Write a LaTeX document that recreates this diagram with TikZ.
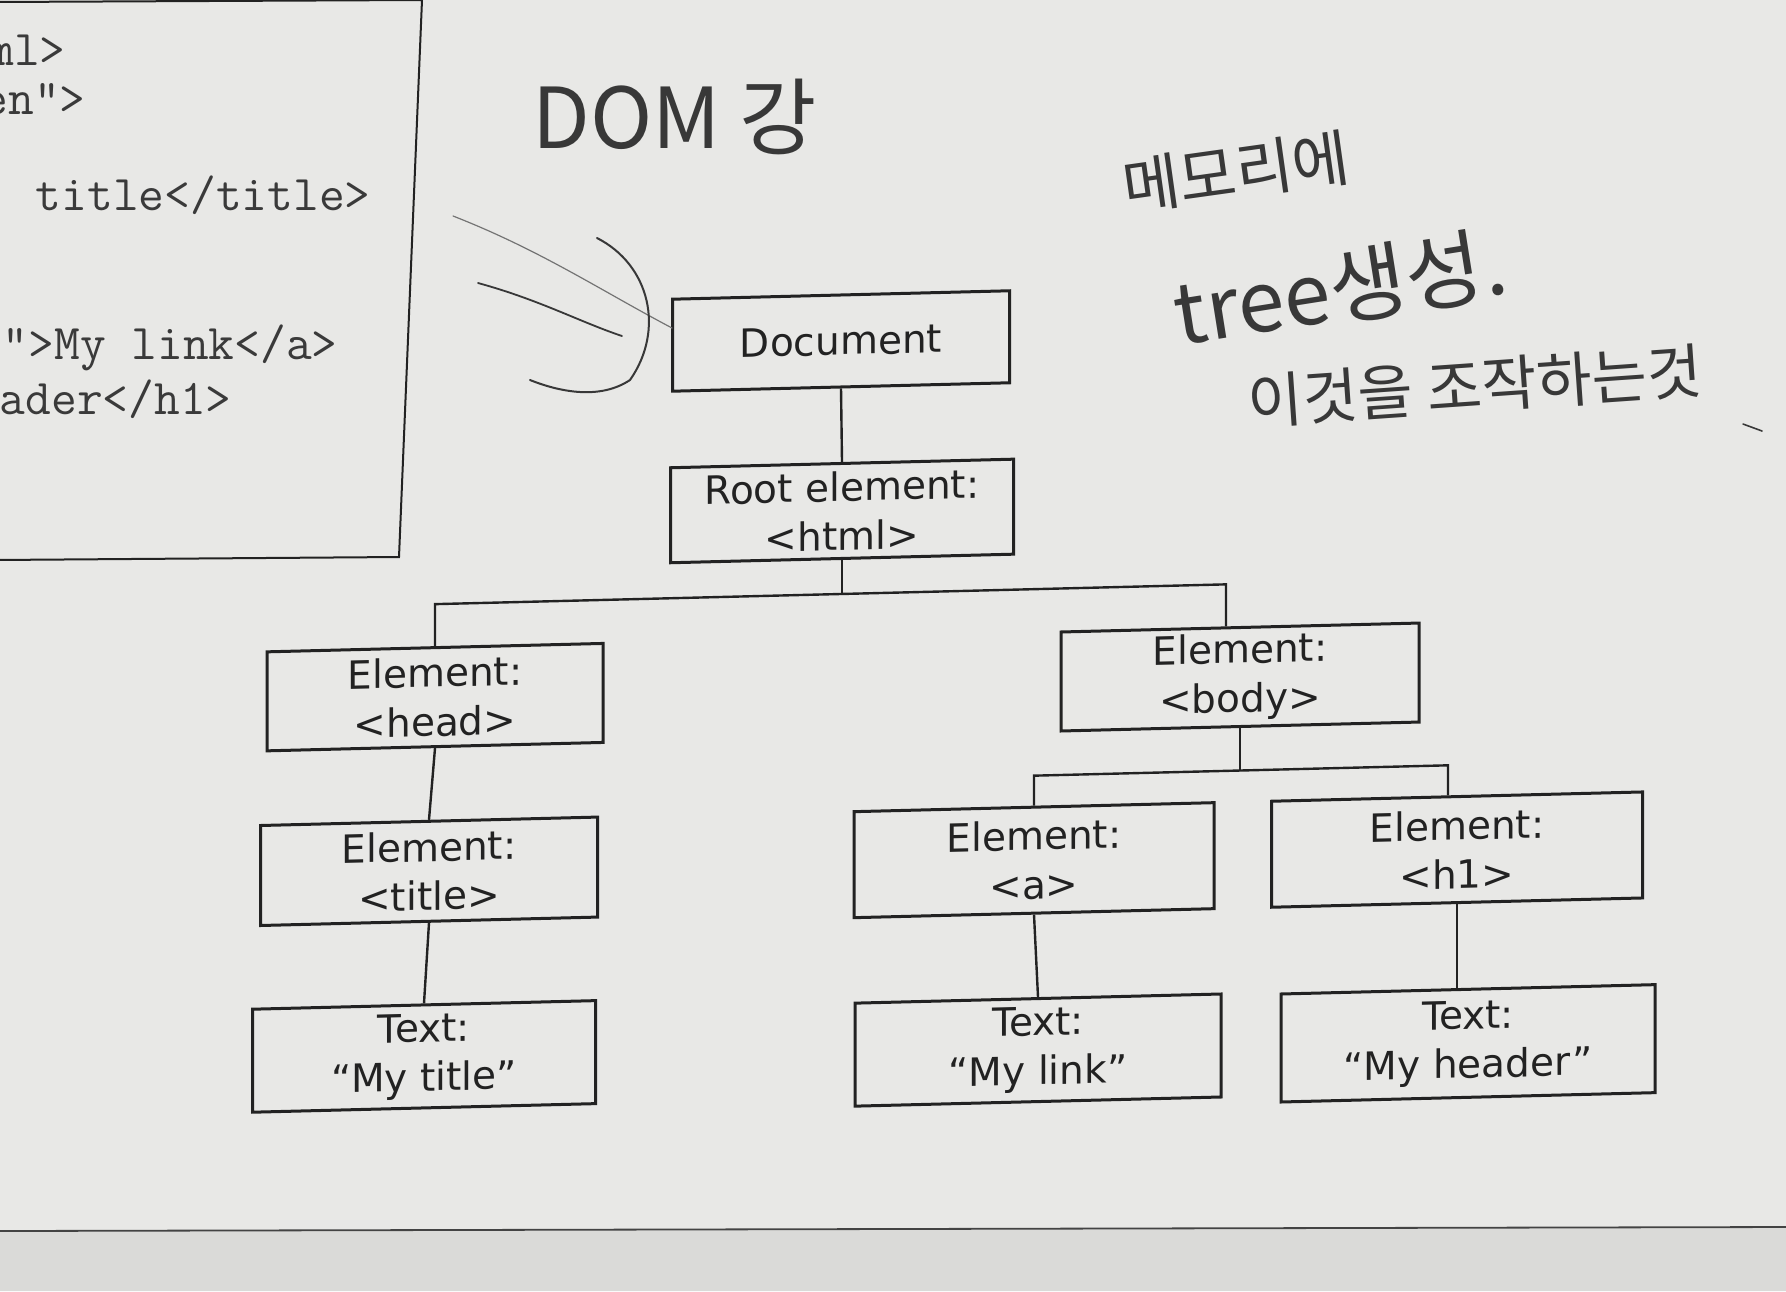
\documentclass[tikz,border=0pt]{standalone}
\usepackage{fontspec}
\setmainfont{DejaVu Sans}
\newfontfamily\handfont{Noto Sans CJK KR}
\usetikzlibrary{calc}
\definecolor{paper}{HTML}{E8E8E6}
\definecolor{paperdark}{HTML}{DADAD8}
\definecolor{ink}{HTML}{222222}
\definecolor{pencil}{HTML}{383838}
\definecolor{codeink}{HTML}{3A3A3A}
\tikzset{
  tbox/.style={draw=ink, line width=1.5pt, inner sep=0pt, align=center,
    font=\fontsize{19.5}{24.5}\selectfont, text=ink},
  conn/.style={draw=ink, line width=1.2pt},
  codeline/.style={anchor=base east, inner sep=0pt, text=codeink,
    font=\fontsize{25}{30}\ttfamily},
  handtext/.style={inner sep=0pt, text=pencil},
  stroke/.style={draw=pencil, line cap=round}
}
\begin{document}
\begin{tikzpicture}[x=0.5pt,y=-0.5pt]
\useasboundingbox (0,0) rectangle (1786,1291);
\fill[paper] (0,0) rectangle (1786,1291);
\fill[paperdark] (0,1231) -- (1786,1227) -- (1786,1291) -- (0,1291) -- cycle;
\draw[line width=0.9pt, draw=ink!85] (0,1231) -- (1786,1227);

% code box (cut off at the left edge of the photo)
\draw[line width=1pt, draw=ink] (-5,2) -- (422,0) -- (399,557) -- (-5,560);
\begin{scope}
\clip (0,0) rectangle (420,555);
\node[codeline] (c1) at (66,65) {ml>};
\node[codeline] (c2) at (86,114) {en">};
\node[codeline] (c3) at (371,210) {title</title>};
\node[codeline] (c4) at (338,359) {">My link</a>};
\node[codeline] (c5) at (232,414) {ader</h1>};
\end{scope}

% DOM tree
\begin{scope}[yslant=0.025, transform shape]
\node[tbox, minimum width=168.5pt, minimum height=46pt] (doc) at (841,362) {Document};
\node[tbox, minimum width=171.5pt, minimum height=47.5pt] (root) at (842,532) {Root element:\\<html>};
\node[tbox, minimum width=168pt, minimum height=49.5pt] (head) at (435,708) {Element:\\<head>};
\node[tbox, minimum width=179pt, minimum height=49.5pt] (body) at (1240,708) {Element:\\<body>};
\node[tbox, minimum width=168.5pt, minimum height=50pt] (title) at (429,882) {Element:\\<title>};
\node[tbox, minimum width=180pt, minimum height=53pt] (anode) at (1034,886) {Element:\\<a>};
\node[tbox, minimum width=185.5pt, minimum height=53pt] (hone) at (1457,886) {Element:\\<h1>};
\node[tbox, minimum width=171.5pt, minimum height=51.5pt] (ttitle) at (424,1067) {Text:\\“My title”};
\node[tbox, minimum width=183pt, minimum height=51.5pt] (tlink) at (1038,1076) {Text:\\“My link”};
\node[tbox, minimum width=187pt, minimum height=54pt] (theader) at (1468,1080) {Text:\\“My header”};

\draw[conn] (doc.south) -- (root.north);
\coordinate (hb) at ($(head.north)+(0,-42)$);
\coordinate (bb) at ($(body.north)+(-14,-42)$);
\draw[conn] (head.north) -- (hb) -- (bb) -- (bb |- body.north);
\draw[conn] (root.south) -- ($(hb)!(root.south)!(bb)$);
\draw[conn] (head.south) -- (title.north);
\draw[conn] (title.south) -- (ttitle.north);

\coordinate (ab) at ($(anode.north)+(0,-30)$);
\coordinate (hob) at ($(hone.north)+(-9,-30)$);
\draw[conn] (anode.north) -- (ab) -- (hob) -- (hob |- hone.north);
\draw[conn] (body.south) -- ($(ab)!(body.south)!(hob)$);
\draw[conn] (anode.south) -- (tlink.north);
\draw[conn] (hone.south) -- (hone.south |- theader.north);
\end{scope}

% handwriting
\node[handtext, font=\handfont\fontsize{42}{50}\selectfont] (dom) at (675,117) {DOM 강};
\node[handtext, rotate=8, font=\handfont\fontsize{31}{36}\selectfont] (mem) at (1236,172) {메모리에};
\node[handtext, rotate=9, font=\handfont\fontsize{42}{50}\selectfont] (tree) at (1340,288) {tree생성.};
\node[handtext, rotate=4, font=\handfont\fontsize{30}{36}\selectfont] (ctrl) at (1475,386) {이것을 조작하는것};

% pencil strokes beside Document
\draw[stroke, line width=0.6pt, draw=pencil!70] (453,216) .. controls (540,250) and (600,290) .. (672,328);
\draw[stroke, line width=0.9pt] (478,283) .. controls (540,300) and (580,322) .. (622,336);
\draw[stroke, line width=1pt] (597,238) .. controls (650,265) and (665,330) .. (630,380) .. controls (600,400) and (560,392) .. (530,380);
\draw[stroke, line width=0.8pt] (1743,424) -- (1762,431);
\end{tikzpicture}
\end{document}
